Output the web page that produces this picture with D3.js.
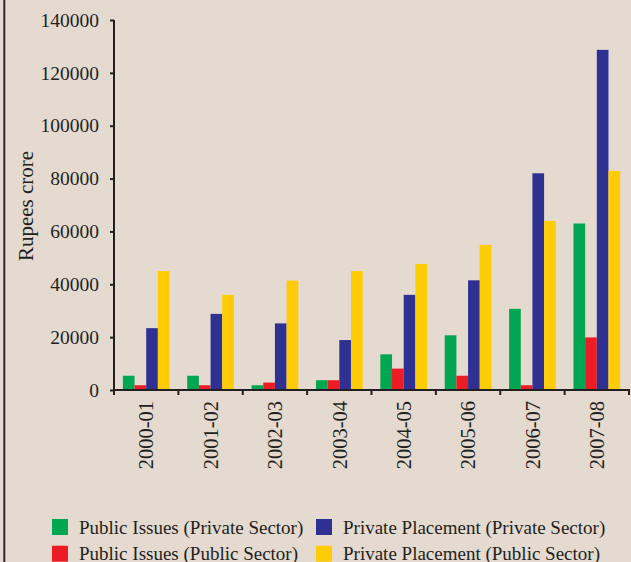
<!DOCTYPE html>
<html>
<head>
<meta charset="utf-8">
<script src="https://cdn.jsdelivr.net/npm/d3@7"></script>
<style>
  html, body { margin: 0; padding: 0; background: #E4DAD0; }
  svg { display: block; }
  text { font-family: "Liberation Serif", "Times New Roman", serif; fill: #231F20; }
</style>
</head>
<body>
<svg id="chart" width="631" height="562"></svg>
<script>
// Fiscal years on the x axis
const years = ["2000-01", "2001-02", "2002-03", "2003-04", "2004-05", "2005-06", "2006-07", "2007-08"];

// Resources raised, Rupees crore
const publicIssuesPrivate = [5400, 5400, 1800, 3700, 13500, 20700, 30700, 63000];
const publicIssuesPublic = [1800, 1800, 2800, 3700, 8100, 5400, 1800, 19900];
const privatePlacementPrivate = [23400, 28800, 25200, 18900, 36000, 41500, 82000, 128700];
const privatePlacementPublic = [45000, 36000, 41400, 45000, 47700, 54900, 64000, 82900];

const seriesNames = [
  "Public Issues (Private Sector)",
  "Public Issues (Public Sector)",
  "Private Placement (Private Sector)",
  "Private Placement (Public Sector)"
];
const seriesColors = ["#00A651", "#ED1C24", "#2E3192", "#FFCB05"];
const seriesValues = [publicIssuesPrivate, publicIssuesPublic, privatePlacementPrivate, privatePlacementPublic];

const yTicks = [0, 20000, 40000, 60000, 80000, 100000, 120000, 140000];

const svg = d3.select("#chart");
const ink = "#231F20";

// frame line on the left edge
svg.append("line")
  .attr("x1", 4.3).attr("x2", 4.3).attr("y1", 0).attr("y2", 562)
  .attr("stroke", "#2a2a2a").attr("stroke-width", 2);

const plot = { left: 114, right: 629, top: 20, bottom: 390 };

const x0 = d3.scaleBand()
  .domain(years)
  .range([plot.left, plot.right])
  .paddingInner(0.275)
  .paddingOuter(0.1375);

const x1 = d3.scaleBand()
  .domain(d3.range(seriesNames.length))
  .range([0, x0.bandwidth()]);

const y = d3.scaleLinear()
  .domain([0, 140000])
  .range([plot.bottom, plot.top]);

// bars
const groups = svg.append("g").selectAll("g")
  .data(years)
  .join("g")
  .attr("transform", d => `translate(${x0(d)},0)`);

groups.selectAll("rect")
  .data((d, i) => seriesValues.map((vals, s) => ({ s, v: vals[i] })))
  .join("rect")
  .attr("x", d => x1(d.s))
  .attr("width", x1.bandwidth())
  .attr("y", d => y(d.v))
  .attr("height", d => y(0) - y(d.v))
  .attr("fill", d => seriesColors[d.s]);

// y axis
const yAxis = svg.append("g")
  .attr("transform", `translate(${plot.left},0)`)
  .call(d3.axisLeft(y).tickValues(yTicks).tickFormat(d3.format("d")).tickSize(4).tickPadding(11));
yAxis.select(".domain").attr("stroke", ink).attr("stroke-width", 2).attr("d", `M0,${plot.top}V${plot.bottom}`);
yAxis.selectAll(".tick line").attr("stroke", ink).attr("stroke-width", 2);
yAxis.selectAll(".tick text")
  .attr("font-size", 19.5)
  .attr("font-family", "Liberation Serif, serif")
  .attr("fill", ink);

// x axis: baseline with ticks at category boundaries
const bounds = years.map(d => x0(d) - x0.step() * x0.paddingInner() / 2).concat([plot.right]);
bounds[0] = plot.left;
svg.append("line")
  .attr("x1", plot.left - 1).attr("x2", plot.right + 1)
  .attr("y1", plot.bottom).attr("y2", plot.bottom)
  .attr("stroke", ink).attr("stroke-width", 2);
svg.append("g").selectAll("line")
  .data(bounds)
  .join("line")
  .attr("x1", d => d).attr("x2", d => d)
  .attr("y1", plot.bottom).attr("y2", plot.bottom + 5)
  .attr("stroke", ink).attr("stroke-width", 2);

// rotated year labels
svg.append("g").selectAll("text")
  .data(years)
  .join("text")
  .attr("transform", d => `translate(${x0(d) + x0.bandwidth() / 2},401) rotate(-90)`)
  .attr("text-anchor", "end")
  .attr("dy", "0.35em")
  .attr("font-size", 20.5)
  .text(d => d);

// y axis title
svg.append("text")
  .attr("transform", "translate(33,206) rotate(-90)")
  .attr("text-anchor", "middle")
  .attr("font-size", 21)
  .text("Rupees crore");

// legend, two columns
const legendItems = [
  { i: 0, x: 52, y: 519 },
  { i: 2, x: 316, y: 519 },
  { i: 1, x: 52, y: 545.7 },
  { i: 3, x: 316, y: 545.7 }
];
const legend = svg.append("g").selectAll("g")
  .data(legendItems)
  .join("g")
  .attr("transform", d => `translate(${d.x},${d.y})`);
legend.append("rect")
  .attr("width", 16).attr("height", 16)
  .attr("fill", d => seriesColors[d.i]);
legend.append("text")
  .attr("x", 27).attr("y", 14.5)
  .attr("font-size", 19)
  .text(d => seriesNames[d.i]);
</script>
</body>
</html>
